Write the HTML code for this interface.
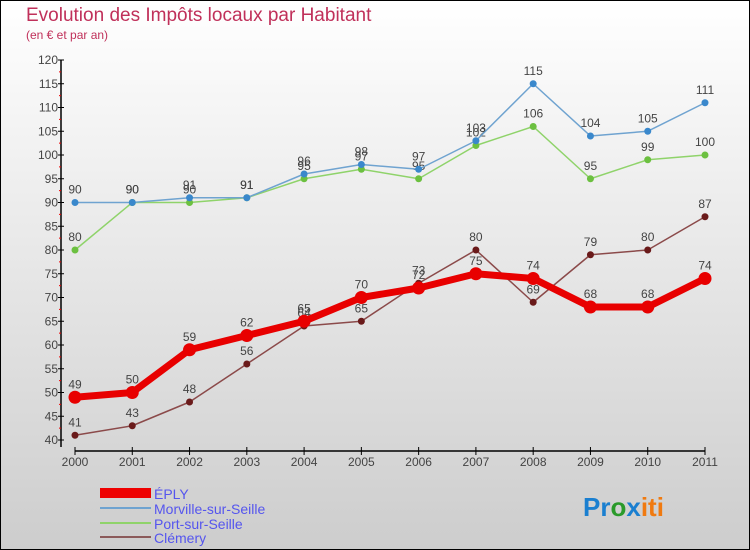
<!DOCTYPE html>
<html><head><meta charset="utf-8"><style>
body{margin:0}
#wrap{width:750px;height:550px;position:relative;overflow:hidden}
svg{display:block;font-family:"Liberation Sans",sans-serif}
</style></head><body>
<div id="wrap">
<svg id="chart" width="750" height="550">
<defs><linearGradient id="bg" x1="0" y1="0" x2="0" y2="1"><stop offset="0" stop-color="#ffffff"/><stop offset="1" stop-color="#cdcdcd"/></linearGradient></defs>
<rect x="0.5" y="0.5" width="749" height="549" fill="url(#bg)" stroke="#000"/>
<text x="26" y="21" font-size="19" fill="#c0305a">Evolution des Impôts locaux par Habitant</text>
<text x="26" y="39" font-size="12" fill="#c0305a">(en € et par an)</text>
<g id="axes"></g><g id="series"></g>
<g>
<rect x="100" y="488" width="51" height="10" fill="#e00"/>
<text x="154" y="499" font-size="14" fill="#5555ee">ÉPLY</text>
<line x1="100" y1="508" x2="151" y2="508" stroke="#6fa3d0" stroke-width="2"/>
<text x="154" y="514" font-size="14" fill="#5555ee">Morville-sur-Seille</text>
<line x1="100" y1="523" x2="151" y2="523" stroke="#8fd36a" stroke-width="2"/>
<text x="154" y="529" font-size="14" fill="#5555ee">Port-sur-Seille</text>
<line x1="100" y1="537" x2="151" y2="537" stroke="#8b5a5a" stroke-width="2"/>
<text x="154" y="543" font-size="14" fill="#5555ee">Clémery</text>
</g>
<text x="583" y="516" font-size="26" font-weight="bold"><tspan fill="#1a7fd0">Pr</tspan><tspan fill="#2a9a2a">o</tspan><tspan fill="#1a7fd0">x</tspan><tspan fill="#f07a10">iti</tspan></text>
</svg></div>
<script>
const years=["2000","2001","2002","2003","2004","2005","2006","2007","2008","2009","2010","2011"];
const yTicks=[40,45,50,55,60,65,70,75,80,85,90,95,100,105,110,115,120];
const eply=[49,50,59,62,65,70,72,75,74,68,68,74];
const morville=[90,90,91,91,96,98,97,103,115,104,105,111];
const port=[80,90,90,91,95,97,95,102,106,95,99,100];
const clemery=[41,43,48,56,64,65,73,80,69,79,80,87];
const NS="http://www.w3.org/2000/svg";
const X=i=>75+i*(630/11);
const Y=v=>440-(v-40)*4.75;
function mk(tag,attrs,parent){const e=document.createElementNS(NS,tag);for(const k in attrs)e.setAttribute(k,attrs[k]);parent.appendChild(e);return e;}
const ax=document.getElementById('axes');
let yl=mk('line',{x1:61,y1:Y(120),x2:61,y2:447,stroke:'#000','stroke-width':1.5},ax);


yTicks.forEach(v=>{
 let t=mk('line',{x1:58,y1:Y(v),x2:64,y2:Y(v),stroke:'#000'},ax);
 
 
 let s=mk('text',{x:58,y:Y(v)+4,'font-size':12,fill:'#444','text-anchor':'end'},ax);s.textContent=v;
 
 
 if(v<120){let m=mk('line',{x1:59,y1:Y(v+2.5),x2:61,y2:Y(v+2.5),stroke:'#e00'},ax);
 
 }
});
let xl=mk('line',{x1:75,y1:451,x2:705,y2:451,stroke:'#000','stroke-width':1.5},ax);


years.forEach((y,i)=>{
 let t=mk('line',{x1:X(i),y1:447,x2:X(i),y2:455,stroke:'#000'},ax);
 
 
 let s=mk('text',{x:X(i),y:466,'font-size':12,fill:'#444','text-anchor':'middle'},ax);s.textContent=y;
 
 
});
const sg=document.getElementById('series');
function draw(data,name,color,w,r,dot){
 const g=mk('g',{},sg);
 
 
 let p=mk('polyline',{points:data.map((v,i)=>X(i)+','+Y(v)).join(' '),fill:'none',stroke:color,'stroke-width':w,'stroke-linejoin':'round'},g);
 
 
 data.forEach((v,i)=>{
  let c=mk('circle',{cx:X(i),cy:Y(v),r:r,fill:dot},g);
  
  
  let t=mk('text',{x:X(i),y:Y(v)-9,'font-size':12,fill:'#444','text-anchor':'middle'},g);t.textContent=v;
  
  
 });
}
draw(clemery,'clemery','#8b4a4a',1.5,3.5,'#6a1a1a');
draw(port,'port','#8fd36a',1.5,3.5,'#6cc040');
draw(morville,'morville','#6fa3d0',1.5,3.5,'#3a88cc');
draw(eply,'eply','#e80000',7,6.5,'#e80000');
</script>
</body></html>
